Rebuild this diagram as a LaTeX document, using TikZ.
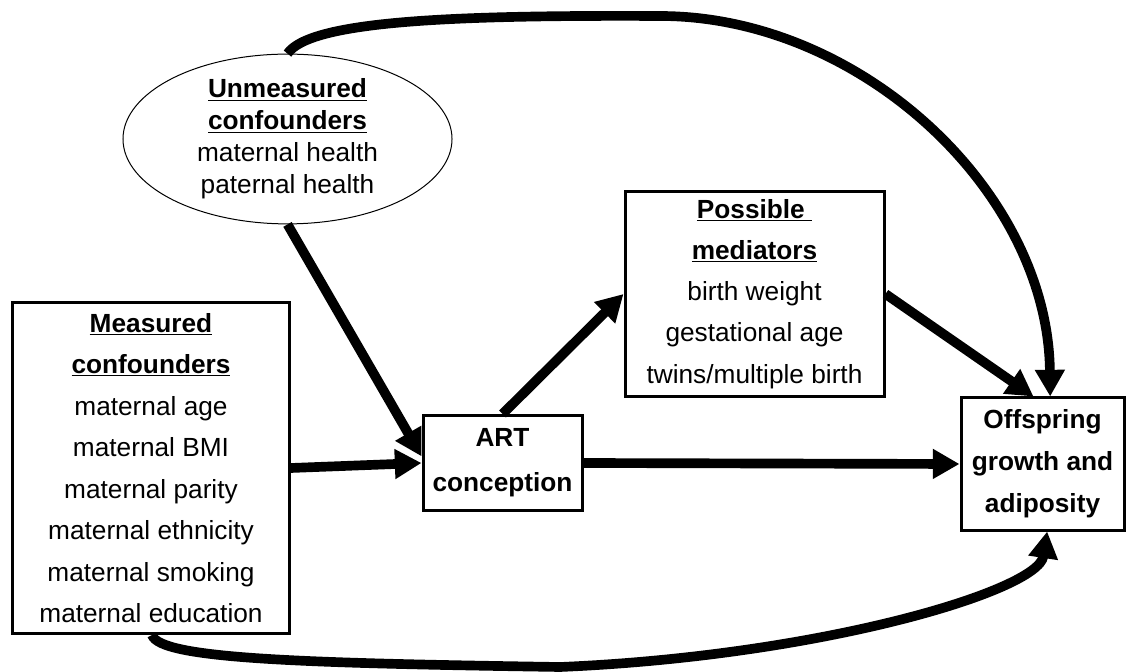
\documentclass[tikz,border=0pt]{standalone}
\usepackage{fontspec}
\setmainfont{Liberation Sans}
\usetikzlibrary{shapes.geometric,arrows.meta}
\newcommand{\hdr}[1]{\underline{\textbf{#1}}}
\begin{document}
\begin{tikzpicture}[
    x=0.03cm, y=0.03cm,
    every node/.style={align=center, inner sep=0pt, font=\fontsize{22.4}{35.4}\selectfont},
    box/.style={draw, rectangle, line width=0.09cm},
    oval/.style={draw, ellipse, line width=0.03cm, font=\fontsize{22.4}{27.2}\selectfont},
    arr/.style={line width=0.29cm, -{Triangle[length=0.8cm, width=0.85cm]}}
]
\useasboundingbox (0,0) rectangle (1127,671);
\node[oval, minimum width=9.87cm, minimum height=5.01cm] (unm) at (287.5,532)
    {\hdr{Unmeasured}\\ \hdr{confounders}\\ maternal health\\ paternal health};
\node[box, minimum width=8.3cm, minimum height=9.93cm] (meas) at (151,203)
    {\hdr{Measured}\\ \hdr{confounders}\\ maternal age\\ maternal BMI\\ maternal parity\\
     maternal ethnicity\\ maternal smoking\\ maternal education};
\node[box, minimum width=4.77cm, minimum height=2.85cm,
      font=\fontsize{22.4}{38.4}\selectfont\bfseries] (art) at (502.5,208)
    {ART\\ conception};
\node[box, minimum width=7.77cm, minimum height=6.12cm,
      font=\fontsize{22.4}{35.1}\selectfont] (med) at (754.5,377)
    {\hdr{Possible\ }\\ \hdr{mediators}\\ birth weight\\ gestational age\\ twins/multiple birth};
\node[box, minimum width=4.89cm, minimum height=3.96cm,
      font=\fontsize{22.4}{35.7}\selectfont\bfseries] (off) at (1042.5,207)
    {Offspring\\ growth and\\ adiposity};

\draw[arr] (meas.east) -- (art.west);
\draw[arr] (unm.south) -- ([yshift=0.2cm]art.west);
\draw[arr] (art.north) -- (med.west);
\draw[arr] (med.east) -- ([xshift=-0.27cm]off.north);
\draw[arr] (art.east) -- (off.west);
\draw[arr] (unm.north) .. controls (310,650) and (450,656) .. (660,655)
    .. controls (860,655) and (1048,480) .. ([xshift=0.23cm]off.north);
\draw[arr] ([xshift=0.03cm]meas.south) .. controls (160,12) and (300,8) .. (560,4)
    .. controls (820,15) and (1038,80) .. ([xshift=0.14cm]off.south);
\end{tikzpicture}
\end{document}
